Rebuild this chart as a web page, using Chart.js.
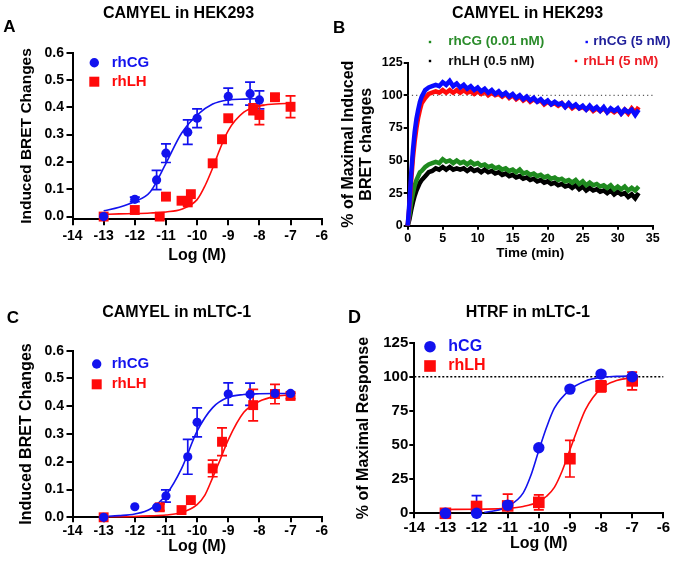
<!DOCTYPE html>
<html><head><meta charset="utf-8">
<script src="https://cdn.jsdelivr.net/npm/chart.js@4.4.1/dist/chart.umd.min.js"></script>
<style>
html,body{margin:0;padding:0;background:#fff;}
#wrap{position:relative;width:675px;height:565px;overflow:hidden;background:#fff;}
canvas{position:absolute;}
</style></head><body>
<div id="wrap">
<canvas id="cA" width="337" height="275" style="left:0px;top:0px"></canvas>
<canvas id="cB" width="345" height="275" style="left:330px;top:0px"></canvas>
<canvas id="cC" width="337" height="285" style="left:0px;top:280px"></canvas>
<canvas id="cD" width="338" height="285" style="left:337px;top:280px"></canvas>
</div>
<script>
// ================= DATA =================
const LOG_TICKS = [-14, -13, -12, -11, -10, -9, -8, -7, -6];
const BRET_TICKS = [0, 0.1, 0.2, 0.3, 0.4, 0.5, 0.6];
const PCT_TICKS = [0, 25, 50, 75, 100, 125];
const TIME_TICKS = [0, 5, 10, 15, 20, 25, 30, 35];

// Panel A: CAMYEL in HEK293 (dose response)
const A_CG_X = [-13, -12, -11.3, -11, -10.3, -10, -9, -8.3, -8];
const A_CG_Y = [0.0, 0.063, 0.134, 0.232, 0.309, 0.36, 0.44, 0.45, 0.427];
const A_CG_ERR = [0, 0.008, 0.035, 0.034, 0.045, 0.034, 0.03, 0.042, 0.033];
const A_LH_X = [-13, -12, -11.2, -11, -10.5, -10.3, -10.2, -9.5, -9.2, -9, -8.2, -8, -7.5, -7];
const A_LH_Y = [0.0, 0.024, 0.0, 0.073, 0.058, 0.052, 0.082, 0.195, 0.283, 0.36, 0.393, 0.372, 0.437, 0.402];
const A_LH_ERR = [0, 0, 0, 0, 0, 0, 0, 0, 0, 0, 0.02, 0.035, 0.01, 0.04];
const A_CG_FIT_X = [-13, -12.5, -12, -11.5, -11, -10.5, -10, -9.5, -9, -8.5, -8];
const A_CG_FIT_Y = [0.021, 0.034, 0.055, 0.091, 0.195, 0.305, 0.372, 0.412, 0.427, 0.430, 0.432];
const A_LH_FIT_X = [-13, -12.5, -12, -11.5, -11, -10.5, -10, -9.75, -9.5, -9.25, -9, -8.5, -8, -7.5, -7];
const A_LH_FIT_Y = [0.008, 0.010, 0.011, 0.013, 0.017, 0.027, 0.062, 0.112, 0.178, 0.252, 0.315, 0.382, 0.405, 0.412, 0.415];

// Panel B: CAMYEL in HEK293 (kinetics), % of maximal induced BRET changes
const B_TIME = [0, 0.25, 0.5, 0.75, 1, 1.25, 1.5, 1.75, 2, 2.5, 3, 3.5, 4, 4.5, 5, 5.5, 6, 6.5, 7, 7.5, 8, 8.5, 9, 9.5, 10,
  10.5, 11, 11.5, 12, 12.5, 13, 13.5, 14, 14.5, 15, 15.5, 16, 16.5, 17, 17.5, 18, 18.5, 19, 19.5, 20,
  20.5, 21, 21.5, 22, 22.5, 23, 23.5, 24, 24.5, 25, 25.5, 26, 26.5, 27, 27.5, 28, 28.5, 29, 29.5, 30,
  30.5, 31, 31.5, 32, 32.5, 33];
const B_CG5 = [0, 18, 40, 58, 72, 82, 89, 95, 99, 104, 106, 107, 108, 107, 110, 108, 111, 107, 109, 106, 108, 105, 107, 104, 106,
  103, 105, 102, 104, 101, 103, 100, 102, 99, 101, 98, 100, 97, 99, 96, 98, 95, 97, 94, 96,
  93, 95, 93, 94, 91, 94, 91, 93, 90, 92, 89, 92, 89, 91, 88, 91, 87, 90, 88, 90,
  86, 89, 87, 89, 85, 89];
const B_LH5 = [0, 15, 35, 52, 65, 75, 83, 89, 94, 98, 101, 102, 103, 102, 104, 102, 104, 102, 104, 102, 104, 102, 103, 101, 103,
  101, 103, 100, 102, 100, 101, 99, 101, 98, 100, 97, 99, 96, 98, 95, 97, 95, 96, 93, 95,
  93, 94, 92, 94, 91, 93, 90, 92, 90, 91, 89, 91, 88, 90, 88, 90, 87, 89, 87, 89,
  86, 89, 86, 90, 87, 91];
const B_CG001 = [0, 8, 18, 25, 31, 35, 38, 41, 42, 45, 47, 48, 49, 48, 51, 49, 50, 48, 50, 48, 49, 47, 49, 47, 48,
  46, 47, 45, 46, 44, 45, 43, 44, 42, 43, 41, 43, 40, 41, 39, 40, 38, 39, 37, 38,
  36, 37, 35, 36, 34, 35, 33, 35, 32, 34, 31, 33, 31, 32, 30, 31, 29, 31, 28, 30,
  28, 30, 27, 29, 27, 30];
const B_LH05 = [0, 5, 12, 18, 23, 27, 30, 33, 35, 38, 41, 42, 44, 43, 45, 43, 45, 43, 44, 43, 44, 42, 44, 42, 43,
  41, 43, 41, 42, 40, 41, 39, 40, 38, 39, 37, 38, 36, 37, 35, 36, 34, 35, 33, 34,
  32, 33, 31, 32, 30, 31, 29, 31, 28, 30, 27, 29, 27, 28, 26, 27, 25, 27, 24, 26,
  24, 25, 22, 24, 21, 25];
const B_REF_X = [0, 35];
const B_REF_Y = [100, 100];

// Panel C: CAMYEL in mLTC-1
const C_CG_X = [-13, -12, -11.3, -11, -10.3, -10, -9, -8.3, -7.5, -7];
const C_CG_Y = [0, 0.038, 0.036, 0.077, 0.218, 0.342, 0.444, 0.443, 0.446, 0.446];
const C_CG_ERR = [0, 0, 0, 0.022, 0.063, 0.052, 0.04, 0.04, 0, 0];
const C_LH_X = [-13, -11.2, -10.5, -10.2, -9.5, -9.2, -8.2, -7.5, -7];
const C_LH_Y = [0, 0.036, 0.026, 0.062, 0.176, 0.272, 0.404, 0.444, 0.437];
const C_LH_ERR = [0, 0.012, 0, 0, 0.03, 0.05, 0.057, 0.035, 0.01];
const C_CG_FIT_X = [-13, -12.5, -12, -11.5, -11, -10.5, -10, -9.5, -9, -8.5, -8, -7.5, -7];
const C_CG_FIT_Y = [0.003, 0.006, 0.012, 0.03, 0.08, 0.175, 0.31, 0.395, 0.432, 0.442, 0.445, 0.446, 0.446];
const C_LH_FIT_X = [-13, -12, -11.5, -11, -10.5, -10, -9.75, -9.5, -9.25, -9, -8.5, -8, -7.5, -7];
const C_LH_FIT_Y = [0.002, 0.003, 0.005, 0.008, 0.017, 0.046, 0.08, 0.143, 0.21, 0.279, 0.378, 0.418, 0.435, 0.441];

// Panel D: HTRF in mLTC-1
const D_CG_X = [-13, -12, -11, -10, -9, -8, -7];
const D_CG_Y = [0, 0, 6, 48, 91, 102, 100];
const D_CG_ERR = [0, 13, 0, 0, 0, 0, 0];
const D_LH_X = [-13, -12, -11, -10, -9, -8, -7];
const D_LH_Y = [0, 5, 5.4, 8, 40, 93, 97];
const D_LH_ERR = [0, 3, 8.6, 5.5, 13.4, 4, 6.5];
const D_CG_FIT_X = [-11.75, -11.5, -11, -10.5, -10.25, -10, -9.75, -9.5, -9, -8.5, -8, -7.5, -7];
const D_CG_FIT_Y = [0.8, 1.5, 5, 15, 28, 46, 63, 77, 90.5, 97, 99.6, 100.3, 100.6];
const D_LH_FIT_X = [-13, -12, -11, -10.5, -10, -9.75, -9.5, -9.25, -9, -8.75, -8.5, -8, -7.5, -7];
const D_LH_FIT_Y = [2.8, 3, 3.6, 5, 8.5, 12.5, 19, 31, 46.5, 62, 76, 91.5, 97.3, 99.4];
const D_REF_X = [-14, -6];
const D_REF_Y = [100, 100];

// ================= STYLE / HELPERS =================
const FONT = '"Liberation Sans", Arial, Helvetica, sans-serif';
const BLUE = '#1212ee', RED = '#ff0a0a', GREEN = '#238a23', BLACK = '#000000';
const pts = (xs, ys) => xs.map((x, i) => ({x: x, y: ys[i]}));

function mkScale(o) {
  return {
    type: 'linear', position: o.pos, min: o.min, max: o.max,
    afterBuildTicks: s => { s.ticks = o.ticks.map(v => ({value: v})); },
    afterFit: s => { if (o.pos === 'left') s.width = o.size; else s.height = o.size; },
    grid: {display: true, drawOnChartArea: false, drawTicks: true, tickLength: o.tl, color: '#000', lineWidth: 2},
    border: {display: true, color: '#000', width: 2},
    ticks: {color: '#000', padding: o.pad, autoSkip: false, maxRotation: 0,
      font: {family: FONT, size: o.fs, weight: 'bold'}, callback: o.fmt || (v => String(v))},
    title: {display: true, text: o.title, color: '#000',
      font: {family: FONT, size: o.tfs, weight: 'bold', lineHeight: o.tlh || 1.2},
      padding: {top: o.tpad, bottom: o.tpad}}
  };
}

const errorBars = {
  id: 'errorBars',
  beforeDatasetsDraw(chart) {
    const ctx = chart.ctx, xs = chart.scales.x, ys = chart.scales.y, a = chart.chartArea;
    ctx.save();
    ctx.beginPath(); ctx.rect(0, 0, chart.width, a.bottom - 1); ctx.clip();
    chart.data.datasets.forEach(ds => {
      if (!ds.errorBars) return;
      ctx.strokeStyle = ds.backgroundColor; ctx.lineWidth = 1.7;
      const c = ds.capHalf || 5;
      ds.data.forEach((p, i) => {
        const e = ds.errorBars[i]; if (!e) return;
        const x = xs.getPixelForValue(p.x);
        const y1 = ys.getPixelForValue(p.y - e), y2 = ys.getPixelForValue(p.y + e);
        ctx.beginPath();
        ctx.moveTo(x, y1); ctx.lineTo(x, y2);
        ctx.moveTo(x - c, y1); ctx.lineTo(x + c, y1);
        ctx.moveTo(x - c, y2); ctx.lineTo(x + c, y2);
        ctx.stroke();
      });
    });
    ctx.restore();
  }
};

const panelText = {
  id: 'panelText',
  afterDraw(chart, args, opts) {
    const ctx = chart.ctx;
    ctx.save();
    (opts.markers || []).forEach(m => {
      ctx.fillStyle = m.color;
      if (m.type === 'circle') { ctx.beginPath(); ctx.arc(m.x, m.y, m.r, 0, Math.PI * 2); ctx.fill(); }
      else { ctx.fillRect(m.x - m.r, m.y - m.r, 2 * m.r, 2 * m.r); }
    });
    (opts.texts || []).forEach(t => {
      ctx.fillStyle = t.color || '#000';
      ctx.font = (t.weight || 'bold') + ' ' + t.size + 'px ' + FONT;
      ctx.textAlign = t.align || 'left';
      ctx.textBaseline = t.baseline || 'alphabetic';
      ctx.fillText(t.text, t.x, t.y);
    });
    ctx.restore();
  }
};

function markerDs(xs, ys, errs, color, style, r) {
  return {data: pts(xs, ys), errorBars: errs, backgroundColor: color, borderColor: color,
    pointBackgroundColor: color, pointBorderWidth: 0, pointStyle: style, pointRadius: r,
    showLine: false, clip: false};
}
function curveDs(xs, ys, color, w) {
  return {data: pts(xs, ys), borderColor: color, backgroundColor: color, borderWidth: w || 1.6,
    pointRadius: 0, showLine: true, cubicInterpolationMode: 'monotone', fill: false, clip: false};
}
function baseOptions(pad, scales, pt) {
  return {
    responsive: false, animation: false, devicePixelRatio: 1, events: [],
    layout: {padding: pad},
    scales: scales,
    plugins: {legend: {display: false}, tooltip: {enabled: false}, panelText: pt}
  };
}
const fmt1 = v => v.toFixed(1);

// ================= PANEL A =================
new Chart(document.getElementById('cA'), {
  type: 'scatter',
  data: {datasets: [
    markerDs(A_CG_X, A_CG_Y, A_CG_ERR, BLUE, 'circle', 4.6),
    markerDs(A_LH_X, A_LH_Y, A_LH_ERR, RED, 'rect', 7),
    curveDs(A_CG_FIT_X, A_CG_FIT_Y, BLUE),
    curveDs(A_LH_FIT_X, A_LH_FIT_Y, RED)
  ]},
  options: baseOptions({left: 0, top: 52.7, right: 15.3, bottom: 0}, {
    x: mkScale({pos: 'bottom', min: -14, max: -6, ticks: LOG_TICKS, size: 55.7, tl: 6, pad: 2, fs: 14,
      title: 'Log (M)', tfs: 16, tpad: 9.4}),
    y: mkScale({pos: 'left', min: -0.01, max: 0.6, ticks: BRET_TICKS, size: 72.5, tl: 6, pad: 2.5, fs: 14,
      fmt: fmt1, title: 'Induced BRET Changes', tfs: 15.5, tpad: 17.7})
  }, {
    texts: [
      {text: 'A', x: 3.3, y: 32.3, size: 17},
      {text: 'CAMYEL in HEK293', x: 178.5, y: 18.3, size: 16, align: 'center'},
      {text: 'rhCG', x: 111.7, y: 62.7, size: 15, color: BLUE, baseline: 'middle'},
      {text: 'rhLH', x: 111.7, y: 81.7, size: 15, color: RED, baseline: 'middle'}
    ],
    markers: [
      {type: 'circle', x: 94.3, y: 62.7, r: 4.7, color: BLUE},
      {type: 'rect', x: 94.3, y: 81.7, r: 5, color: RED}
    ]
  }),
  plugins: [errorBars, panelText]
});

// ================= PANEL B =================
new Chart(document.getElementById('cB'), {
  type: 'scatter',
  data: {datasets: [
    curveDs(B_TIME, B_CG5, '#0a0aff', 4.5),
    curveDs(B_TIME, B_LH5, '#ff0a0a', 4.5),
    curveDs(B_TIME, B_CG001, '#1f8a1f', 4.5),
    curveDs(B_TIME, B_LH05, '#000000', 4.5),
    Object.assign(curveDs(B_REF_X, B_REF_Y, '#333333', 1), {borderDash: [1.2, 3]})
  ].map(d => Object.assign(d, {cubicInterpolationMode: 'default', tension: 0}))},
  options: baseOptions({left: 0, top: 62.7, right: 22.3, bottom: 0}, {
    x: mkScale({pos: 'bottom', min: 0, max: 35, ticks: TIME_TICKS, size: 49.3, tl: 4, pad: 1.8, fs: 12.5,
      title: 'Time (min)', tfs: 13.5, tpad: 14}),
    y: mkScale({pos: 'left', min: 0, max: 125, ticks: PCT_TICKS, size: 77.7, tl: 4, pad: 1, fs: 12.5,
      title: ['% of Maximal Induced', 'BRET changes'], tfs: 16, tlh: 1.1, tpad: 10.2})
  }, {
    texts: [
      {text: 'B', x: 3, y: 33, size: 17},
      {text: 'CAMYEL in HEK293', x: 197.5, y: 18, size: 16, align: 'center'},
      {text: 'rhCG (0.01 nM)', x: 118.3, y: 41.7, size: 13.5, color: '#2a8c2a', baseline: 'middle'},
      {text: 'rhCG (5 nM)', x: 263.3, y: 41.7, size: 13.5, color: '#1f1f9a', baseline: 'middle'},
      {text: 'rhLH (0.5 nM)', x: 118.3, y: 61, size: 13.5, color: '#111111', baseline: 'middle'},
      {text: 'rhLH (5 nM)', x: 253.3, y: 61, size: 13.5, color: '#ee1c24', baseline: 'middle'}
    ],
    markers: [
      {type: 'rect', x: 100, y: 42, r: 1.2, color: '#1f8a1f'},
      {type: 'rect', x: 256.7, y: 42, r: 1.2, color: '#0a0aff'},
      {type: 'rect', x: 100, y: 61, r: 1.2, color: '#000'},
      {type: 'rect', x: 246, y: 61, r: 1.2, color: '#ff0a0a'}
    ]
  }),
  plugins: [panelText]
});

// ================= PANEL C =================
new Chart(document.getElementById('cC'), {
  type: 'scatter',
  data: {datasets: [
    markerDs(C_CG_X, C_CG_Y, C_CG_ERR, BLUE, 'circle', 4.6),
    markerDs(C_LH_X, C_LH_Y, C_LH_ERR, RED, 'rect', 7),
    curveDs(C_CG_FIT_X, C_CG_FIT_Y, BLUE),
    curveDs(C_LH_FIT_X, C_LH_FIT_Y, RED)
  ]},
  options: baseOptions({left: 0, top: 70.7, right: 15.3, bottom: 0}, {
    x: mkScale({pos: 'bottom', min: -14, max: -6, ticks: LOG_TICKS, size: 47.7, tl: 5, pad: 0.5, fs: 14,
      title: 'Log (M)', tfs: 16, tpad: 8.7}),
    y: mkScale({pos: 'left', min: 0, max: 0.6, ticks: BRET_TICKS, size: 72.5, tl: 6, pad: 2.5, fs: 14,
      fmt: fmt1, title: 'Induced BRET Changes', tfs: 16, tpad: 17.1})
  }, {
    texts: [
      {text: 'C', x: 6.7, y: 43.3, size: 17},
      {text: 'CAMYEL in mLTC-1', x: 176.7, y: 37, size: 16, align: 'center'},
      {text: 'rhCG', x: 111.7, y: 84, size: 15, color: BLUE, baseline: 'middle'},
      {text: 'rhLH', x: 111.7, y: 104.3, size: 15, color: RED, baseline: 'middle'}
    ],
    markers: [
      {type: 'circle', x: 96.7, y: 84, r: 4.7, color: BLUE},
      {type: 'rect', x: 96.7, y: 104.3, r: 5, color: RED}
    ]
  }),
  plugins: [errorBars, panelText]
});

// ================= PANEL D =================
new Chart(document.getElementById('cD'), {
  type: 'scatter',
  data: {datasets: [
    markerDs(D_CG_X, D_CG_Y, D_CG_ERR, BLUE, 'circle', 5.7),
    markerDs(D_LH_X, D_LH_Y, D_LH_ERR, RED, 'rect', 8.2),
    curveDs(D_CG_FIT_X, D_CG_FIT_Y, BLUE),
    curveDs(D_LH_FIT_X, D_LH_FIT_Y, RED),
    Object.assign(curveDs(D_REF_X, D_REF_Y, '#000000', 1.5), {borderDash: [2, 2], cubicInterpolationMode: 'default'})
  ]},
  options: baseOptions({left: 0, top: 62.7, right: 11.7, bottom: 0}, {
    x: mkScale({pos: 'bottom', min: -14, max: -6, ticks: LOG_TICKS, size: 51.7, tl: 5, pad: 0.5, fs: 15,
      title: 'Log (M)', tfs: 16, tpad: 12.1}),
    y: mkScale({pos: 'left', min: 0, max: 125, ticks: PCT_TICKS, size: 77.3, tl: 5, pad: 1, fs: 15,
      title: '% of Maximal Response', tfs: 16, tpad: 16.7})
  }, {
    texts: [
      {text: 'D', x: 11, y: 43.3, size: 18},
      {text: 'HTRF in mLTC-1', x: 190.8, y: 36.7, size: 16, align: 'center'},
      {text: 'hCG', x: 111.3, y: 66.7, size: 16, color: BLUE, baseline: 'middle'},
      {text: 'rhLH', x: 111.3, y: 86, size: 16, color: RED, baseline: 'middle'}
    ],
    markers: [
      {type: 'circle', x: 93, y: 66.7, r: 5.8, color: BLUE},
      {type: 'rect', x: 93, y: 86, r: 5.8, color: RED}
    ]
  }),
  plugins: [errorBars, panelText]
});
</script>
</body></html>
